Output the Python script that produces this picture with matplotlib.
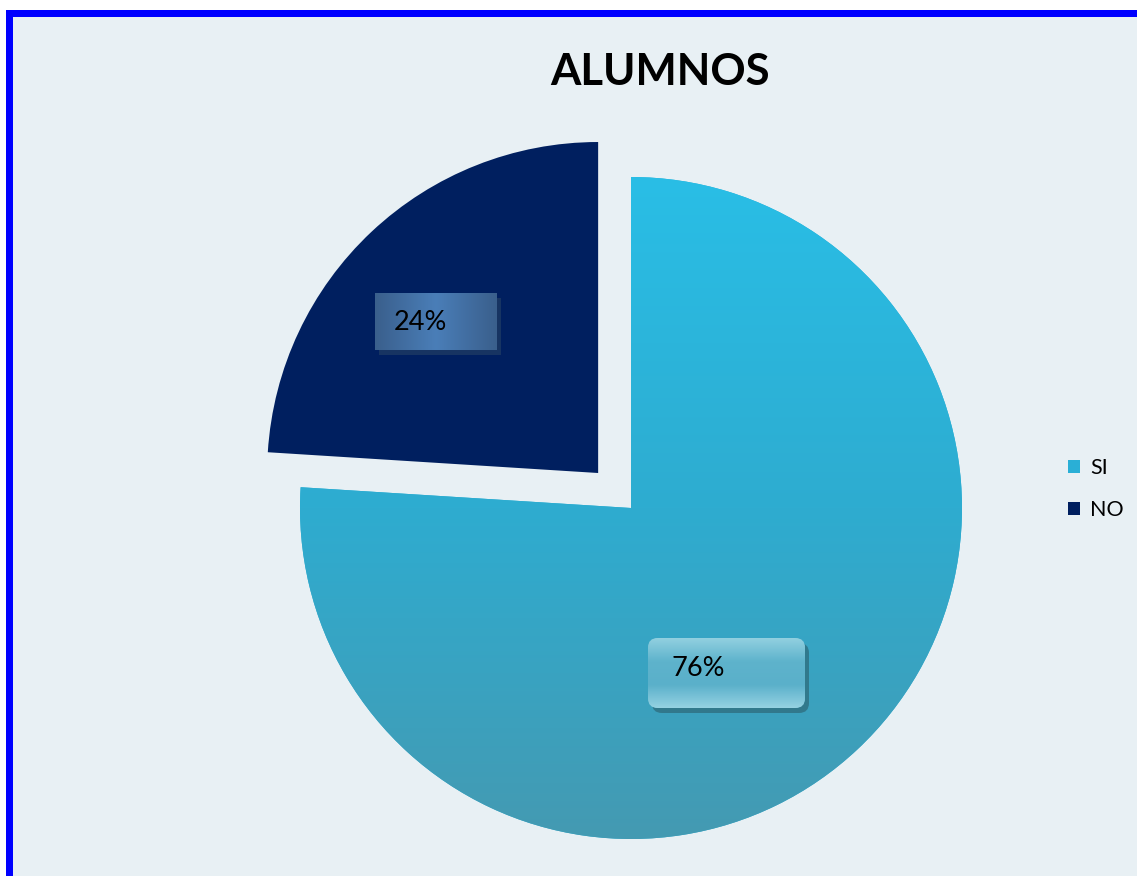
import numpy as np
import matplotlib
matplotlib.use("Agg")
import matplotlib.pyplot as plt
from matplotlib.colors import LinearSegmentedColormap
from matplotlib.patches import Rectangle, FancyBboxPatch

# data
labels = ["SI", "NO"]
values = [76, 24]
pct_text = ["76%", "24%"]
title = "ALUMNOS"

colors = ["#2AAFD6", "#001F5F"]
explode = [0, 0.145]

W, H = 1137, 876
cx, cy, R = 631, 508, 331   # pie centre / radius in pixels (from top)

plt.rcParams["font.family"] = ["Lato", "DejaVu Sans"]

fig = plt.figure(figsize=(W / 100, H / 100), dpi=100)
fig.patch.set_facecolor("white")

# blue frame + light background
fig.patches.append(Rectangle((6 / W, 0), 1, 1 - 10 / H, transform=fig.transFigure,
                             facecolor="#0000FF", edgecolor="none", zorder=-3))
fig.patches.append(Rectangle((13 / W, 0), 1, 1 - 17 / H, transform=fig.transFigure,
                             facecolor="#E8F0F4", edgecolor="none", zorder=-2))

ax = fig.add_axes([0, 0, 1, 1])
ax.axis("off")
ax.patch.set_alpha(0)

wedges, _ = ax.pie(values, colors=colors, explode=explode, startangle=90,
                   counterclock=False, radius=1, frame=False)
ax.set_xlim(-cx / R, (W - cx) / R)
ax.set_ylim(-(H - cy) / R, cy / R)
ax.set_aspect("auto")


def fill_gradient(patch, c_list, extent, vertical=True):
    cmap = LinearSegmentedColormap.from_list("g", c_list)
    g = np.linspace(0, 1, 256)
    img = g.reshape(-1, 1) if vertical else g.reshape(1, -1)
    im = ax.imshow(img, cmap=cmap, extent=extent, origin="upper",
                   aspect="auto", zorder=patch.get_zorder() + 0.1)
    im.set_clip_path(patch)
    return im


# gradient on the SI slice
fill_gradient(wedges[0], ["#29BEE6", "#2EACD0", "#449AB2"], (-1, 1, -1, 1))

# data label boxes (x0, y0, x1, y1) in pixels from top-left
box_px = [(648, 638, 805, 708), (375, 293, 497, 350)]
text_px = [(672, 668), (394, 322)]
box_round = [0.03, 0.0]
box_cols = [["#92D0E0", "#5EB3CC", "#5AB0CA", "#95D2E2"],
            ["#3A5F8C", "#4A7EB8", "#3A5F8C"]]
shadow_cols = ["#2F6F80", "#1E3A63"]


def px2d(x, y):
    return (x - cx) / R, (cy - y) / R


for i in range(len(values)):
    x0, y0, x1, y1 = box_px[i]
    dx0, dy0 = px2d(x0, y1)
    dx1, dy1 = px2d(x1, y0)
    style = ("round,pad=0,rounding_size=%g" % box_round[i]) if box_round[i] else "square,pad=0"
    sh = FancyBboxPatch((dx0 + 4 / R, dy0 - 5 / R), dx1 - dx0, dy1 - dy0,
                        boxstyle=style, facecolor=shadow_cols[i],
                        edgecolor="none", zorder=5, alpha=0.8)
    ax.add_patch(sh)
    bx = FancyBboxPatch((dx0, dy0), dx1 - dx0, dy1 - dy0, boxstyle=style,
                        facecolor=box_cols[i][1], edgecolor="none", zorder=6)
    ax.add_patch(bx)
    fill_gradient(bx, box_cols[i], (dx0, dx1, dy0, dy1), vertical=(i == 0))
    tx, ty = px2d(*text_px[i])
    ax.text(tx, ty, pct_text[i], fontsize=19.5, color="black", ha="left",
            va="center", zorder=8)

fig.text(660 / W, 1 - 72 / H, title, fontsize=31.5, fontweight="bold",
         ha="center", va="center")

leg = ax.legend(wedges, labels, loc="center left",
                bbox_to_anchor=(1049 / W, 1 - 489 / H), bbox_transform=fig.transFigure,
                frameon=False, fontsize=15.5, handlelength=0.55, handleheight=0.55,
                handletextpad=0.45, labelspacing=1.0)
for h in leg.legend_handles:
    h.set_edgecolor("none")

plt.savefig("out.png", dpi=100)
